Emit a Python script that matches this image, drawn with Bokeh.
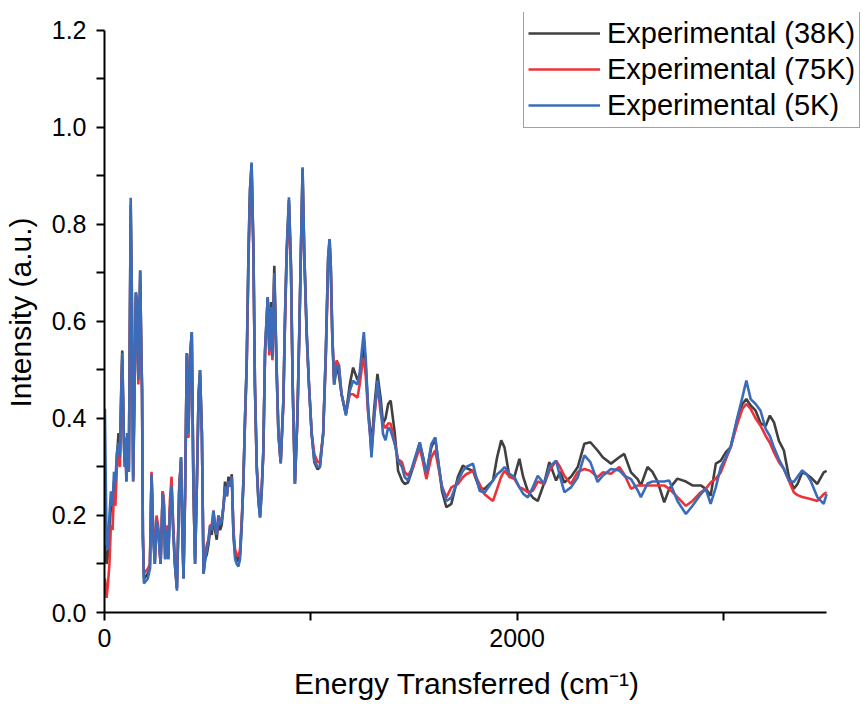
from bokeh.plotting import figure
from bokeh.models import Range1d, FixedTicker, NumeralTickFormatter, Legend, LegendItem
from bokeh.embed import file_html
from bokeh.resources import INLINE

# Energy transferred (cm^-1)
energy = [2, 10, 17, 24, 31, 39, 46, 53, 60, 68, 75, 80, 86, 92, 97, 102, 106, 111, 118,
          127, 132, 139, 145, 152, 158, 164, 173, 178, 182, 186, 191, 201, 210, 220, 228,
          236, 244, 252, 260, 272, 282, 288, 294, 301, 309, 317, 325, 333, 341, 351, 362,
          371, 377, 383, 391, 399, 407, 415, 423, 431, 439, 447, 456, 463, 472, 480, 488,
          496, 504, 512, 520, 528, 536, 544, 552, 560, 568, 577, 584, 593, 601, 609, 617,
          625, 633, 641, 649, 657, 665, 673, 681, 689, 698, 705, 713, 722, 729, 738, 746,
          754, 762, 770, 778, 791, 799, 807, 814, 823, 834, 843, 854, 867, 875, 883, 894,
          904, 912, 923, 935, 944, 952, 960, 968, 980, 991, 1004, 1017, 1033, 1044, 1060,
          1073, 1084, 1091, 1097, 1104, 1113, 1125, 1136, 1149, 1170, 1189, 1205, 1226,
          1237, 1249, 1257, 1266, 1278, 1289, 1294, 1307, 1323, 1339, 1350, 1362, 1375,
          1387, 1407, 1423, 1442, 1455, 1471, 1496, 1528, 1544, 1560, 1584, 1603, 1618,
          1636, 1657, 1681, 1713, 1737, 1753, 1786, 1818, 1842, 1883, 1903, 1923, 1939,
          1963, 1987, 2011, 2029, 2052, 2076, 2100, 2132, 2156, 2189, 2208, 2229, 2261,
          2294, 2326, 2355, 2390, 2415, 2455, 2495, 2519, 2552, 2584, 2600, 2632, 2656,
          2681, 2713, 2737, 2777, 2818, 2850, 2890, 2914, 2938, 2963, 2987, 3011, 3035,
          3068, 3092, 3111, 3132, 3156, 3180, 3205, 3225, 3245, 3269, 3293, 3317, 3341,
          3359, 3382, 3403, 3422, 3455, 3486, 3500]

# Experimental (5K)
exp_5k = [0.42, 0.14, 0.13, 0.20, 0.25, 0.22, 0.29, 0.27, 0.33, 0.35, 0.32, 0.43, 0.535,
          0.40, 0.30, 0.36, 0.27, 0.37, 0.29, 0.855, 0.68, 0.27, 0.45, 0.66, 0.64, 0.48,
          0.705, 0.55, 0.46, 0.16, 0.06, 0.065, 0.07, 0.09, 0.285, 0.16, 0.10, 0.19, 0.17,
          0.10, 0.245, 0.22, 0.11, 0.17, 0.11, 0.21, 0.26, 0.17, 0.10, 0.045, 0.25, 0.32,
          0.17, 0.07, 0.26, 0.535, 0.37, 0.53, 0.578, 0.26, 0.10, 0.25, 0.45, 0.50, 0.37,
          0.08, 0.11, 0.13, 0.15, 0.18, 0.17, 0.21, 0.18, 0.16, 0.20, 0.18, 0.19, 0.22,
          0.26, 0.24, 0.27, 0.26, 0.28, 0.16, 0.11, 0.10, 0.095, 0.11, 0.18, 0.265, 0.40,
          0.51, 0.745, 0.87, 0.928, 0.745, 0.47, 0.30, 0.23, 0.196, 0.25, 0.334, 0.54,
          0.65, 0.54, 0.63, 0.526, 0.70, 0.507, 0.368, 0.307, 0.437, 0.61, 0.746, 0.856,
          0.712, 0.47, 0.265, 0.403, 0.575, 0.746, 0.918, 0.746, 0.575, 0.47, 0.368,
          0.313, 0.30, 0.30, 0.368, 0.54, 0.733, 0.77, 0.712, 0.575, 0.47, 0.507, 0.51,
          0.45, 0.406, 0.457, 0.478, 0.47, 0.495, 0.547, 0.578, 0.525, 0.416, 0.355, 0.32,
          0.403, 0.478, 0.423, 0.368, 0.355, 0.382, 0.375, 0.347, 0.313, 0.30, 0.279,
          0.272, 0.307, 0.351, 0.32, 0.286, 0.347, 0.361, 0.31, 0.258, 0.23, 0.237, 0.272,
          0.292, 0.30, 0.307, 0.251, 0.247, 0.272, 0.285, 0.292, 0.30, 0.286, 0.279,
          0.258, 0.245, 0.237, 0.258, 0.282, 0.265, 0.30, 0.313, 0.28, 0.248, 0.258,
          0.279, 0.324, 0.31, 0.269, 0.282, 0.296, 0.293, 0.282, 0.275, 0.252, 0.238,
          0.266, 0.27, 0.27, 0.27, 0.272, 0.23, 0.203, 0.22, 0.244, 0.255, 0.224, 0.258,
          0.30, 0.32, 0.341, 0.403, 0.444, 0.478, 0.44, 0.43, 0.416, 0.378, 0.364, 0.34,
          0.316, 0.296, 0.272, 0.269, 0.28, 0.293, 0.285, 0.272, 0.238, 0.224, 0.244]

# Experimental (38K)
exp_38k = [0.14, 0.10, 0.12, 0.17, 0.22, 0.21, 0.27, 0.26, 0.32, 0.37, 0.33, 0.44, 0.54,
           0.40, 0.31, 0.36, 0.27, 0.37, 0.29, 0.84, 0.68, 0.28, 0.45, 0.66, 0.64, 0.48,
           0.705, 0.55, 0.46, 0.16, 0.07, 0.075, 0.08, 0.09, 0.285, 0.16, 0.10, 0.19,
           0.17, 0.10, 0.25, 0.22, 0.11, 0.17, 0.11, 0.21, 0.26, 0.17, 0.10, 0.05, 0.25,
           0.32, 0.17, 0.07, 0.26, 0.535, 0.37, 0.53, 0.578, 0.26, 0.10, 0.25, 0.45, 0.50,
           0.37, 0.08, 0.11, 0.12, 0.14, 0.17, 0.16, 0.20, 0.17, 0.15, 0.19, 0.17, 0.18,
           0.22, 0.27, 0.24, 0.28, 0.26, 0.285, 0.16, 0.12, 0.115, 0.105, 0.12, 0.18,
           0.265, 0.40, 0.51, 0.745, 0.87, 0.925, 0.745, 0.47, 0.30, 0.23, 0.196, 0.25,
           0.334, 0.54, 0.65, 0.54, 0.64, 0.53, 0.715, 0.51, 0.37, 0.31, 0.437, 0.61,
           0.746, 0.85, 0.712, 0.47, 0.265, 0.403, 0.575, 0.746, 0.915, 0.746, 0.58, 0.47,
           0.37, 0.31, 0.295, 0.30, 0.37, 0.54, 0.733, 0.77, 0.712, 0.575, 0.47, 0.507,
           0.49, 0.45, 0.41, 0.47, 0.505, 0.48, 0.49, 0.52, 0.56, 0.51, 0.42, 0.37, 0.34,
           0.42, 0.492, 0.44, 0.39, 0.40, 0.43, 0.437, 0.37, 0.292, 0.272, 0.265, 0.268,
           0.30, 0.35, 0.32, 0.285, 0.34, 0.36, 0.31, 0.25, 0.217, 0.224, 0.28, 0.303,
           0.298, 0.292, 0.255, 0.255, 0.272, 0.32, 0.355, 0.34, 0.279, 0.28, 0.317, 0.28,
           0.25, 0.237, 0.23, 0.268, 0.31, 0.272, 0.29, 0.268, 0.28, 0.30, 0.348, 0.351,
           0.334, 0.32, 0.307, 0.32, 0.327, 0.289, 0.275, 0.262, 0.30, 0.29, 0.27, 0.227,
           0.255, 0.276, 0.27, 0.262, 0.262, 0.255, 0.241, 0.307, 0.313, 0.33, 0.341, 0.40,
           0.43, 0.44, 0.427, 0.416, 0.39, 0.385, 0.406, 0.392, 0.354, 0.334, 0.28, 0.255,
           0.265, 0.289, 0.285, 0.279, 0.265, 0.289, 0.292]

# Experimental (75K)
exp_75k = [0.07, 0.03, 0.06, 0.10, 0.18, 0.17, 0.25, 0.22, 0.30, 0.33, 0.30, 0.41, 0.52,
           0.39, 0.31, 0.34, 0.28, 0.36, 0.30, 0.80, 0.66, 0.27, 0.43, 0.65, 0.63, 0.47,
           0.68, 0.55, 0.45, 0.16, 0.08, 0.085, 0.09, 0.10, 0.29, 0.17, 0.11, 0.20, 0.18,
           0.10, 0.25, 0.23, 0.12, 0.18, 0.12, 0.23, 0.28, 0.18, 0.11, 0.05, 0.26, 0.31,
           0.18, 0.08, 0.24, 0.53, 0.36, 0.53, 0.57, 0.26, 0.11, 0.25, 0.44, 0.49, 0.37,
           0.09, 0.12, 0.14, 0.15, 0.18, 0.18, 0.21, 0.18, 0.16, 0.20, 0.19, 0.19, 0.22,
           0.25, 0.24, 0.27, 0.26, 0.28, 0.17, 0.13, 0.12, 0.115, 0.13, 0.19, 0.27, 0.39,
           0.50, 0.72, 0.85, 0.91, 0.74, 0.47, 0.30, 0.24, 0.21, 0.26, 0.33, 0.53, 0.64,
           0.53, 0.62, 0.52, 0.69, 0.50, 0.37, 0.31, 0.43, 0.60, 0.73, 0.84, 0.70, 0.47,
           0.27, 0.40, 0.57, 0.74, 0.90, 0.74, 0.57, 0.47, 0.37, 0.327, 0.31, 0.31, 0.37,
           0.53, 0.72, 0.76, 0.70, 0.57, 0.48, 0.52, 0.51, 0.45, 0.41, 0.45, 0.45, 0.443,
           0.47, 0.51, 0.525, 0.49, 0.41, 0.36, 0.33, 0.40, 0.47, 0.41, 0.389, 0.38, 0.39,
           0.389, 0.35, 0.316, 0.31, 0.29, 0.282, 0.30, 0.34, 0.31, 0.275, 0.32, 0.334,
           0.30, 0.26, 0.237, 0.258, 0.265, 0.279, 0.285, 0.292, 0.265, 0.244, 0.23,
           0.255, 0.28, 0.292, 0.28, 0.275, 0.258, 0.255, 0.248, 0.251, 0.27, 0.265,
           0.292, 0.313, 0.30, 0.282, 0.265, 0.29, 0.296, 0.292, 0.279, 0.289, 0.286,
           0.30, 0.285, 0.255, 0.262, 0.262, 0.262, 0.262, 0.262, 0.262, 0.255, 0.238,
           0.22, 0.23, 0.248, 0.255, 0.268, 0.276, 0.289, 0.315, 0.341, 0.39, 0.42, 0.43,
           0.42, 0.40, 0.385, 0.364, 0.35, 0.33, 0.31, 0.296, 0.272, 0.248, 0.242, 0.238,
           0.236, 0.234, 0.23, 0.244, 0.248]

series_labels = ["Experimental (38K)", "Experimental (75K)", "Experimental (5K)"]
y_ticks = [0.0, 0.2, 0.4, 0.6, 0.8, 1.0, 1.2]
y_minor = [0.1, 0.3, 0.5, 0.7, 0.9, 1.1]
x_ticks = [0, 2000]
x_minor = [1000, 3000]
x_axis_span = (0, 3500)
y_axis_span = (0, 1.2)

FONT = "Liberation Sans"

# The frame reaches past the axes so that the legend (which overhangs the
# x-axis end and the 1.2 tick in the reference) is not clipped.
p = figure(width=863, height=706, output_backend="svg", toolbar_location=None,
           x_range=Range1d(0, 3674), y_range=Range1d(0, 1.2371),
           min_border_left=102, min_border_right=1, min_border_top=12,
           min_border_bottom=94)
p.outline_line_color = None
p.xgrid.visible = False
p.ygrid.visible = False
p.background_fill_color = "white"
p.border_fill_color = "white"

colors = ["#404040", "#ee3338", "#3b6cba"]
r_k = p.line(energy, exp_38k, line_color=colors[0], line_width=2.6)
r_r = p.line(energy, exp_75k, line_color=colors[1], line_width=2.6)
r_b = p.line(energy, exp_5k, line_color=colors[2], line_width=2.6)

for ax in (p.xaxis[0], p.yaxis[0]):
    ax.axis_line_width = 2
    ax.axis_line_color = "black"
    ax.major_tick_line_width = 2
    ax.minor_tick_line_width = 2
    ax.major_tick_out = 8
    ax.major_tick_in = 0
    ax.minor_tick_out = 8
    ax.minor_tick_in = 0
    ax.major_label_text_font = FONT
    ax.major_label_text_font_size = "25px"
    ax.major_label_text_color = "black"
    ax.axis_label_text_font = FONT
    ax.axis_label_text_font_size = "30px"
    ax.axis_label_text_font_style = "normal"
    ax.axis_label_text_color = "black"

p.xaxis.bounds = x_axis_span
p.xaxis.ticker = FixedTicker(ticks=x_ticks, minor_ticks=x_minor)
p.xaxis.formatter = NumeralTickFormatter(format="0")
p.xaxis.major_label_standoff = 8
# trailing no-break spaces re-centre the title under the drawn axis (0-3500)
p.xaxis.axis_label = "Energy Transferred (cm\u207b\u00b9)" + "\u00a0" * 4
p.xaxis.axis_label_standoff = 17

p.yaxis.bounds = y_axis_span
p.yaxis.ticker = FixedTicker(ticks=y_ticks, minor_ticks=y_minor)
p.yaxis.formatter = NumeralTickFormatter(format="0.0")
p.yaxis.major_label_standoff = 10
p.yaxis.axis_label = "Intensity (a.u.)"
p.yaxis.axis_label_standoff = 12

legend = Legend(items=[LegendItem(label=series_labels[0], renderers=[r_k]),
                       LegendItem(label=series_labels[1], renderers=[r_r]),
                       LegendItem(label=series_labels[2], renderers=[r_b])],
                location=(419, 484))
legend.label_text_font = FONT
legend.label_text_font_size = "29px"
legend.label_text_color = "black"
legend.glyph_width = 72
legend.glyph_height = 36
legend.label_height = 36
legend.label_standoff = 7
legend.spacing = 0
legend.padding = 4
legend.margin = 0
legend.border_line_color = "#444444"
legend.border_line_width = 1
legend.background_fill_alpha = 1.0
p.add_layout(legend, "center")

open("out.html", "w").write(file_html(p, INLINE))
